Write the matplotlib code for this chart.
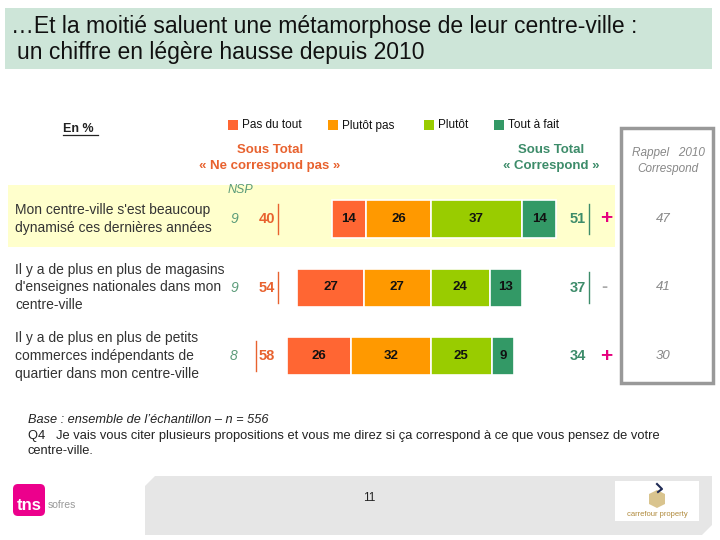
import matplotlib
matplotlib.use("Agg")
import matplotlib.pyplot as plt
from matplotlib.patches import Rectangle, FancyBboxPatch, Polygon
import numpy as np

plt.rcParams['font.family'] = ['Liberation Sans', 'DejaVu Sans']

# ---------------- data ----------------
categories = [
    "Mon centre-ville s'est beaucoup\ndynamisé ces dernières années",
    "Il y a de plus en plus de magasins\nd'enseignes nationales dans mon\ncentre-ville",
    "Il y a de plus en plus de petits\ncommerces indépendants de\nquartier dans mon centre-ville",
]
series_names = ["Pas du tout", "Plutôt pas", "Plutôt", "Tout à fait"]
pas_du_tout = [14, 27, 26]
plutot_pas = [26, 27, 32]
plutot = [37, 24, 25]
tout_a_fait = [14, 13, 9]
nsp = [9, 9, 8]
total_neg = [40, 54, 58]
total_pos = [51, 37, 34]
evolution = ["+", "-", "+"]
rappel_2010 = [47, 41, 30]

colors = ["#FF6633", "#FF9900", "#99CC00", "#339966"]
neg_col = "#E8622F"
pos_col = "#3D8C6A"

fig = plt.figure(figsize=(7.2, 5.4), dpi=100)

# background / decoration axes in pixel coordinates
bg = fig.add_axes([0, 0, 1, 1])
bg.set_xlim(0, 720)
bg.set_ylim(540, 0)
bg.axis("off")

# title box
bg.add_patch(Rectangle((5, 8), 707, 61, facecolor="#CDE5D8", edgecolor="none"))
bg.text(11, 27, "…Et la moitié saluent une métamorphose de leur centre-ville :",
        fontsize=16.5, va="center", ha="left", color="#111111")
bg.text(17, 52, "un chiffre en légère hausse depuis 2010",
        fontsize=16.5, va="center", ha="left", color="#111111")

# highlight band row 1
bg.add_patch(Rectangle((8, 185), 607, 62, facecolor="#FFFFCC", edgecolor="none"))
# rappel box
bg.add_patch(Rectangle((621, 128), 92, 255, facecolor="white", edgecolor="#999999", linewidth=2.5))

# En %
bg.text(63, 129, "En %", fontsize=9, fontweight="bold", ha="left", va="center", color="#222222")
bg.plot([63, 98], [135, 135], color="#222222", lw=0.9)

# legend
leg_x = [228, 328, 424, 494]
for lx, c, name in zip(leg_x, colors, series_names):
    bg.add_patch(Rectangle((lx, 120), 10, 10, facecolor=c, edgecolor="none"))
    bg.text(lx + 14, 125.5, name, fontsize=8.5, ha="left", va="center", color="#111111")

bg.text(270, 158, "Sous Total\n« Ne correspond pas »", fontsize=9.5, fontweight="bold",
        ha="center", va="center", color=neg_col, linespacing=1.45)
bg.text(551, 158, "Sous Total\n« Correspond »", fontsize=9.5, fontweight="bold",
        ha="center", va="center", color=pos_col, linespacing=1.45)
bg.text(668, 161, "Rappel   2010\nCorrespond", fontsize=8.5, style="italic",
        ha="center", va="center", color="#888888", linespacing=1.35)
bg.text(240, 190, "NSP", fontsize=9, style="italic", ha="center", va="center", color="#5C9C7A")

# footer
bg.text(28, 420, "Base : ensemble de l’échantillon – n = 556", fontsize=9.2, style="italic",
        ha="left", va="center", color="#222222")
bg.text(28, 436, "Q4   Je vais vous citer plusieurs propositions et vous me direz si ça correspond à ce que vous pensez de votre",
        fontsize=9.3, ha="left", va="center", color="#222222")
bg.text(28, 451, "centre-ville.", fontsize=9.3, ha="left", va="center", color="#222222")

bg.add_patch(Polygon([(145, 486), (155, 476), (712, 476), (712, 525), (702, 535), (145, 535)],
                     closed=True, facecolor="#E6E6E6", edgecolor="none"))
bg.text(369, 498, "11", fontsize=8.5, ha="center", va="center", color="#222222")

# tns logo
bg.add_patch(FancyBboxPatch((13, 484), 32, 32, boxstyle="round,pad=0,rounding_size=5",
                            facecolor="#EC008C", edgecolor="none"))
bg.text(29, 505, "tns", fontsize=12, fontweight="bold", ha="center", va="center", color="white")
bg.text(48, 505, "sofres", fontsize=7.5, ha="left", va="center", color="#999999")

# carrefour property logo
bg.add_patch(Rectangle((615, 481), 84, 40, facecolor="white", edgecolor="none"))
bg.add_patch(Polygon([(649, 494), (657, 490), (665, 494), (665, 504), (657, 508), (649, 504)],
                     closed=True, facecolor="#D9C48E", edgecolor="none"))
bg.plot([657, 662, 658], [484, 489, 492], color="#1F2A55", lw=1.5)
bg.text(657, 514, "carrefour property", fontsize=5.5, ha="center", va="center", color="#B08A3C")

# ---------------- bar axes ----------------
scale = 2.47  # px per percentage point
x0_px = 430.5
xmin, xmax = -70, 70
left_px = x0_px + xmin * scale
width_px = (xmax - xmin) * scale
row_px = [219, 287.5, 356]
row_step = row_px[1] - row_px[0]
top_px = row_px[0] - 0.5 * row_step
height_px = 3 * row_step
ax = fig.add_axes([left_px / 720, 1 - (top_px + height_px) / 540, width_px / 720, height_px / 540])
ax.set_xlim(xmin, xmax)
ax.set_ylim(2.5, -0.5)
ax.axis("off")
ax.patch.set_alpha(0)

y = np.arange(len(categories))
bh = 38 / row_step

pdt = np.array(pas_du_tout)
pp = np.array(plutot_pas)
pl = np.array(plutot)
ta = np.array(tout_a_fait)

lefts = [-(pdt + pp), -pp, np.zeros(3), pl]
widths = [pdt, pp, pl, ta]
for lft, w, c in zip(lefts, widths, colors):
    bars = ax.barh(y, w, left=lft, height=bh, color=c, edgecolor="white", linewidth=1.2)
    for b, v in zip(bars, w):
        ax.text(b.get_x() + b.get_width() / 2, b.get_y() + b.get_height() / 2, str(v),
                ha="center", va="center", fontsize=9.5, fontweight="bold", color="#111111")

def px2x(px):
    return (px - x0_px) / scale

for i in range(3):
    # NSP
    ax.text(px2x(234), y[i], str(nsp[i]), fontsize=10, style="italic", ha="center", va="center",
            color="#5C9C7A", clip_on=False)
    # negative total
    ax.text(px2x(267), y[i], str(total_neg[i]), fontsize=10.5, fontweight="bold", ha="center",
            va="center", color=neg_col, clip_on=False)
    lx = px2x(278) if i < 2 else px2x(256)
    ax.plot([lx, lx], [y[i] - 0.22, y[i] + 0.22], color=neg_col, lw=1, clip_on=False)
    # positive total
    ax.text(px2x(578), y[i], str(total_pos[i]), fontsize=10.5, fontweight="bold", ha="center",
            va="center", color=pos_col, clip_on=False)
    if i < 2:
        ax.plot([px2x(589), px2x(589)], [y[i] - 0.22, y[i] + 0.22], color=pos_col, lw=1, clip_on=False)
    # evolution sign
    if evolution[i] == "+":
        ax.text(px2x(606), y[i], "+", fontsize=15, fontweight="bold", ha="center", va="center",
                color="#E6007E", clip_on=False)
    else:
        ax.text(px2x(604), y[i], "-", fontsize=13, fontweight="bold", ha="center", va="center",
                color="#AAAAAA", clip_on=False)
    # rappel 2010
    ax.text(px2x(663), y[i], str(rappel_2010[i]), fontsize=9.5, style="italic", ha="center",
            va="center", color="#888888", clip_on=False)
    # category label
    ax.text(px2x(15), y[i], categories[i], fontsize=10, ha="left", va="center",
            color="#333333", linespacing=1.32, clip_on=False)

fig.savefig("out.png", dpi=100)
